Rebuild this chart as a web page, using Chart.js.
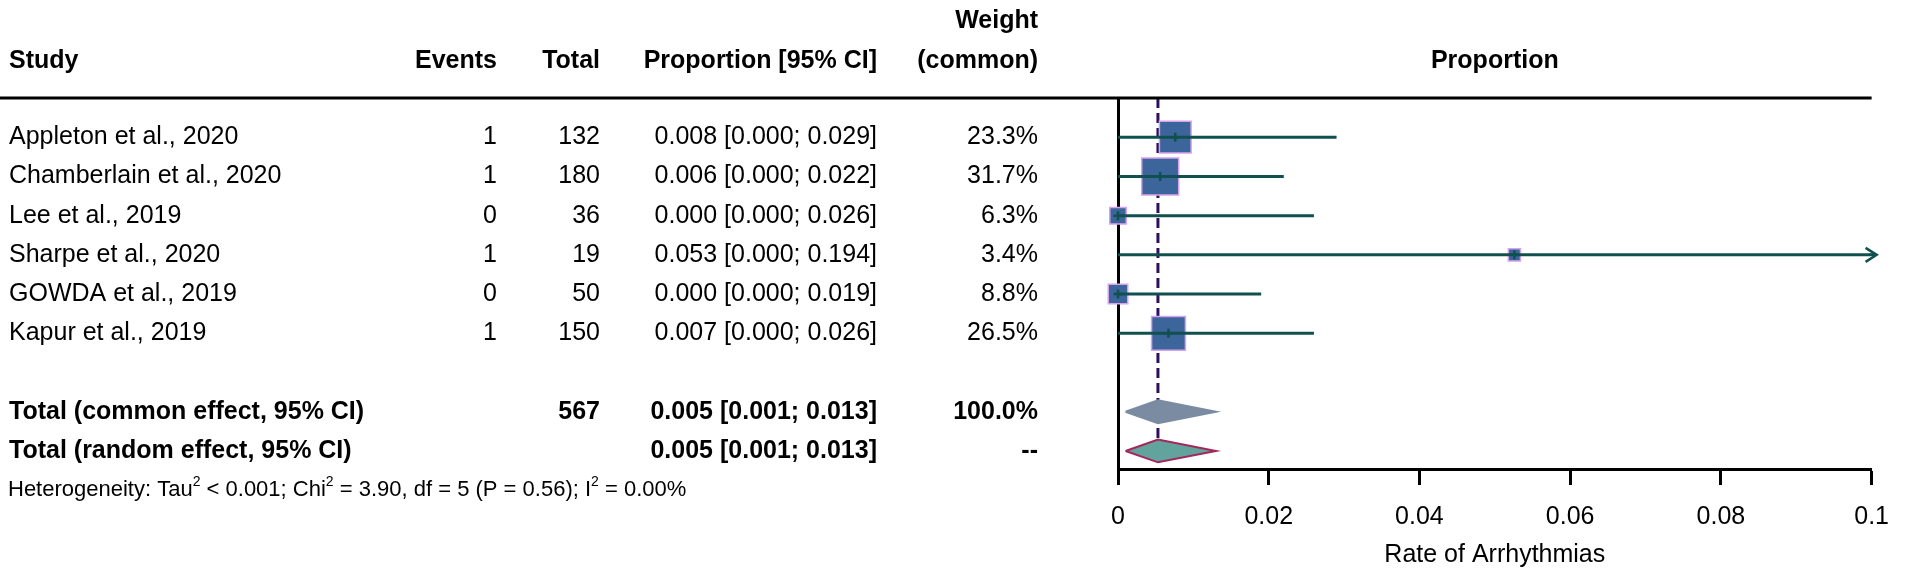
<!DOCTYPE html>
<html>
<head>
<meta charset="utf-8">
<script src="https://cdn.jsdelivr.net/npm/chart.js@4.4.1/dist/chart.umd.min.js"></script>
<style>
  html, body { margin: 0; padding: 0; background: #fff; }
</style>
</head>
<body>
<canvas id="forestChart" width="1906" height="573"></canvas>
<script>
// study rows
const studies = ['Appleton et al., 2020', 'Chamberlain et al., 2020', 'Lee et al., 2019', 'Sharpe et al., 2020', 'GOWDA et al., 2019', 'Kapur et al., 2019'];
const events = [1, 1, 0, 1, 0, 1];
const totals = [132, 180, 36, 19, 50, 150];
const estimates = [0.0076, 0.0056, 0, 0.0526, 0, 0.0067];
const lowers = [0, 0, 0, 0, 0, 0];
const uppers = [0.029, 0.022, 0.026, 0.194, 0.019, 0.026];
const weights = [23.3, 31.7, 6.3, 3.4, 8.8, 26.5];

// pooled rows
const summaryLabels = ['Total (common effect, 95% CI)', 'Total (random effect, 95% CI)'];
const summaryTotals = ['567', ''];
const summaryEstimates = [0.0053, 0.0053];
const summaryLowers = [0.001, 0.001];
const summaryUppers = [0.013, 0.013];
const summaryWeights = ['100.0%', '--'];

const xTicks = [0, 0.02, 0.04, 0.06, 0.08, 0.1];
const xTickLabels = ['0', '0.02', '0.04', '0.06', '0.08', '0.1'];
const heterogeneity = [['Heterogeneity: Tau'], ['2', true], [' < 0.001; Chi'], ['2', true], [' = 3.90, df = 5 (P = 0.56); I'], ['2', true], [' = 0.00%']];

const FONT = '"Liberation Sans", Arial, sans-serif';
const ciColor = '#10504e';
const xMax = xTicks[xTicks.length - 1];
const fmt = v => v.toFixed(3);
const ciText = (e, lo, hi) => fmt(e) + ' [' + fmt(lo) + '; ' + fmt(hi) + ']';
const summaryRow = i => 8 + i;
const diamondHalf = 0.29;

const datasets = [];
// small cross at each estimate
datasets.push({
  data: estimates.map((e, i) => ({x: e, y: i + 1})),
  pointStyle: 'cross', pointRadius: 4.5, borderWidth: 2.5,
  borderColor: ciColor, order: 1, clip: false
});
// confidence intervals
studies.forEach((s, i) => {
  datasets.push({
    showLine: true,
    data: [{x: lowers[i], y: i + 1}, {x: Math.min(uppers[i], xMax), y: i + 1}],
    borderColor: ciColor, borderWidth: 3, pointRadius: 0, order: 2, clip: false
  });
});
// weight squares
datasets.push({
  data: estimates.map((e, i) => ({x: e, y: i + 1})),
  pointStyle: 'rect',
  pointRadius: weights.map(w => 6.57 * Math.sqrt(w) / Math.SQRT2),
  backgroundColor: '#3c659c', borderColor: '#d7a2ec', borderWidth: 1.5,
  order: 3, clip: false
});
// pooled diamonds
const diamondFill = ['#7a8ba2', '#63a39e'];
const diamondLine = ['#7a8ba2', '#a3285a'];
summaryLabels.forEach((s, i) => {
  const r = summaryRow(i);
  datasets.push({
    showLine: true, fill: 'shape',
    data: [
      {x: summaryLowers[i], y: r},
      {x: summaryEstimates[i], y: r - diamondHalf},
      {x: summaryUppers[i], y: r},
      {x: summaryEstimates[i], y: r + diamondHalf},
      {x: summaryLowers[i], y: r}
    ],
    backgroundColor: diamondFill[i], borderColor: diamondLine[i], borderWidth: 2,
    pointRadius: 0, tension: 0, order: 4, clip: false
  });
});
// common effect reference line
datasets.push({
  showLine: true,
  data: [{x: summaryEstimates[0], y: 0}, {x: summaryEstimates[0], y: summaryRow(1)}],
  borderColor: '#2e0f5c', borderWidth: 3, borderDash: [10, 5], pointRadius: 0, order: 5
});

const tablePlugin = {
  id: 'forestTable',
  afterDraw(chart) {
    const {ctx, chartArea, scales: {x, y}} = chart;
    ctx.save();

    // rule under header
    ctx.strokeStyle = '#000';
    ctx.lineWidth = 3;
    ctx.beginPath();
    ctx.moveTo(0, chartArea.top);
    ctx.lineTo(chartArea.right, chartArea.top);
    ctx.stroke();

    // arrows for intervals past the axis
    ctx.strokeStyle = ciColor;
    ctx.lineWidth = 2.5;
    uppers.forEach((u, i) => {
      if (u <= xMax) return;
      const px = x.getPixelForValue(xMax) + 5;
      const py = y.getPixelForValue(i + 1);
      ctx.beginPath();
      ctx.moveTo(px - 8, py); ctx.lineTo(px, py);
      ctx.moveTo(px - 11, py - 7); ctx.lineTo(px, py); ctx.lineTo(px - 11, py + 7);
      ctx.stroke();
    });

    ctx.fillStyle = '#000';
    ctx.textBaseline = 'middle';
    const put = (txt, px, row, align, bold) => {
      ctx.font = (bold ? 'bold ' : '') + '25px ' + FONT;
      ctx.textAlign = align;
      ctx.fillText(txt, px, y.getPixelForValue(row));
    };

    // headers
    const hr = -0.95;
    put('Study', 9, hr, 'left', true);
    put('Events', 497, hr, 'right', true);
    put('Total', 600, hr, 'right', true);
    put('Proportion [95% CI]', 877, hr, 'right', true);
    put('Weight', 1038, hr - 1, 'right', true);
    put('(common)', 1038, hr, 'right', true);
    put('Proportion', (chartArea.left + chartArea.right) / 2, hr, 'center', true);

    // studies
    studies.forEach((s, i) => {
      const r = i + 1;
      put(s, 9, r, 'left', false);
      put(String(events[i]), 497, r, 'right', false);
      put(String(totals[i]), 600, r, 'right', false);
      put(ciText(estimates[i], lowers[i], uppers[i]), 877, r, 'right', false);
      put(weights[i].toFixed(1) + '%', 1038, r, 'right', false);
    });

    // pooled
    summaryLabels.forEach((s, i) => {
      const r = summaryRow(i);
      put(s, 9, r, 'left', true);
      put(summaryTotals[i], 600, r, 'right', true);
      put(ciText(summaryEstimates[i], summaryLowers[i], summaryUppers[i]), 877, r, 'right', true);
      put(summaryWeights[i], 1038, r, 'right', true);
    });

    // heterogeneity line
    let hx = 8;
    const hy = y.getPixelForValue(10);
    ctx.textAlign = 'left';
    heterogeneity.forEach(([t, sup]) => {
      ctx.font = (sup ? '14px ' : '22px ') + FONT;
      ctx.fillText(t, hx, sup ? hy - 8 : hy);
      hx += ctx.measureText(t).width;
    });

    ctx.restore();
  }
};

new Chart(document.getElementById('forestChart'), {
  type: 'scatter',
  data: {datasets: datasets},
  options: {
    responsive: false,
    animation: false,
    events: [],
    layout: {padding: {left: 1118, right: 18, top: 98, bottom: 0}},
    plugins: {legend: {display: false}, tooltip: {enabled: false}},
    scales: {
      x: {
        type: 'linear', min: 0, max: xMax,
        afterBuildTicks: s => { s.ticks = xTicks.map(v => ({value: v})); },
        afterFit: s => { s.height = 104; },
        border: {display: true, color: '#000', width: 3},
        grid: {drawOnChartArea: false, drawTicks: true, tickLength: 16, tickWidth: 3, tickColor: '#000'},
        ticks: {
          color: '#000', padding: 17, font: {family: FONT, size: 25, lineHeight: 1.2},
          callback: (v, i) => xTickLabels[i]
        },
        title: {display: true, text: 'Rate of Arrhythmias', color: '#000',
                padding: {top: 0, bottom: 3}, font: {family: FONT, size: 25, lineHeight: 1.2}}
      },
      y: {
        type: 'linear', min: 0, max: 9.46, reverse: true,
        afterFit: s => { s.width = 0; },
        border: {display: true, color: '#000', width: 3},
        grid: {display: false, drawTicks: false},
        ticks: {display: false}
      }
    }
  },
  plugins: [tablePlugin]
});
</script>
</body>
</html>
